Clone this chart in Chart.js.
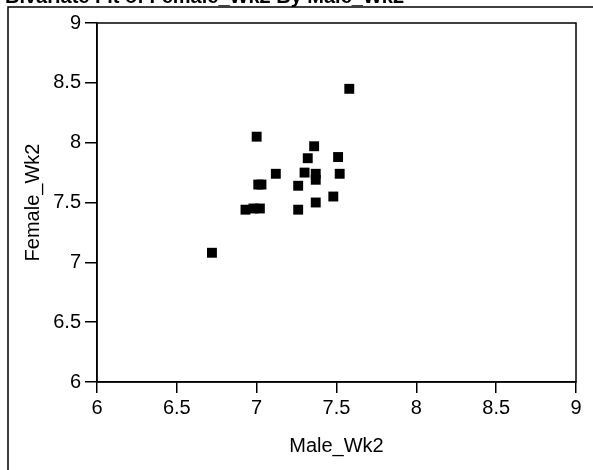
<!DOCTYPE html>
<html>
<head>
<meta charset="utf-8">
<script src="https://cdn.jsdelivr.net/npm/chart.js@4"></script>
<style>
  html, body { margin: 0; padding: 0; background: #fff; }
  #wrap { width: 593px; height: 470px; }
</style>
</head>
<body>
<div id="wrap"><canvas id="fitChart"></canvas></div>
<script>
// values
const maleWk2 = [7.58, 7.00, 7.36, 7.51, 7.32, 7.12, 7.30, 7.37, 7.37, 7.52,
                 7.01, 7.03, 7.26, 7.48, 7.37, 6.93, 6.98, 7.02, 7.26, 6.72];
const femaleWk2 = [8.45, 8.05, 7.97, 7.88, 7.87, 7.74, 7.75, 7.74, 7.69, 7.74,
                   7.65, 7.65, 7.64, 7.55, 7.50, 7.44, 7.45, 7.45, 7.44, 7.08];
const tickValues = [6, 6.5, 7, 7.5, 8, 8.5, 9];

const points = maleWk2.map((x, i) => ({ x: x, y: femaleWk2[i] }));
const font = { family: "Liberation Sans, Arial, sans-serif", size: 20 };

// outer report frame, cut-off report title and the box round the plot
const framePlugin = {
    id: "frame",
    beforeDraw(chart) {
        const ctx = chart.ctx;
        ctx.save();
        ctx.fillStyle = "#000";
        ctx.font = "bold 20px Liberation Sans, Arial, sans-serif";
        ctx.textBaseline = "alphabetic";
        ctx.fillText("Bivariate Fit of Female_Wk2 By Male_Wk2", 5, 3);
        ctx.strokeStyle = "#000";
        ctx.lineWidth = 1.5;
        ctx.beginPath();
        ctx.moveTo(8, 480);
        ctx.lineTo(8, 7);
        ctx.lineTo(600, 7);
        ctx.stroke();
        ctx.restore();
    },
    afterDatasetsDraw(chart) {
        const a = chart.chartArea;
        const ctx = chart.ctx;
        ctx.save();
        ctx.strokeStyle = "#000";
        ctx.lineWidth = 1.5;
        ctx.strokeRect(a.left, a.top, a.right - a.left, a.bottom - a.top);
        ctx.restore();
    }
};

new Chart(document.getElementById("fitChart"), {
    type: "scatter",
    data: {
        datasets: [{
            label: "Female_Wk2 by Male_Wk2",
            data: points,
            pointStyle: "rect",
            pointRadius: 7,
            pointHoverRadius: 7,
            pointBorderWidth: 0,
            backgroundColor: "#000",
            borderColor: "#000",
        }],
    },
    options: {
        responsive: true,
        maintainAspectRatio: false,
        animation: false,
        layout: { padding: { top: 23, right: 17, bottom: 0, left: 0 } },
        plugins: {
            legend: { display: false },
            tooltip: { enabled: false },
        },
        scales: {
            x: {
                type: "linear",
                min: 6,
                max: 9,
                afterBuildTicks: (scale) => { scale.ticks = tickValues.map(v => ({ value: v })); },
                afterFit: (scale) => { scale.height = 88; },
                grid: { drawOnChartArea: false, drawTicks: true, tickLength: 11, color: "#000", lineWidth: 1.5 },
                border: { display: true, color: "#000", width: 1.5 },
                ticks: { color: "#000", font: font, padding: 3, maxRotation: 0, callback: (v) => String(v) },
                title: { display: true, text: "Male_Wk2", color: "#000", font: font, padding: { top: 0, bottom: 12 } },
            },
            y: {
                type: "linear",
                min: 6,
                max: 9,
                afterBuildTicks: (scale) => { scale.ticks = tickValues.map(v => ({ value: v })); },
                afterFit: (scale) => { scale.width = 97; },
                grid: { drawOnChartArea: false, drawTicks: true, tickLength: 12, color: "#000", lineWidth: 1.5 },
                border: { display: true, color: "#000", width: 1.5 },
                ticks: { color: "#000", font: font, padding: 4, callback: (v) => String(v) },
                title: { display: true, text: "Female_Wk2", color: "#000", font: font, padding: { top: 21, bottom: 0 } },
            },
        },
    },
    plugins: [framePlugin],
});
</script>
</body>
</html>
